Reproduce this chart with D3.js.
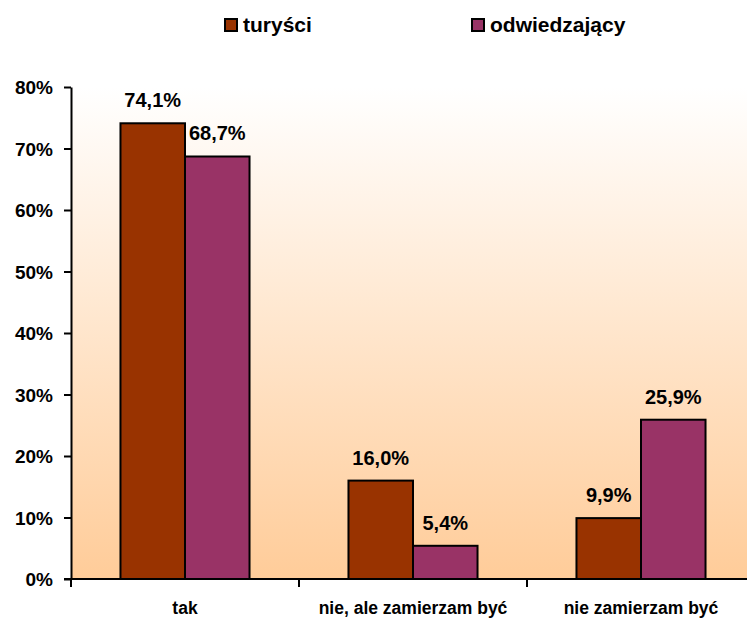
<!DOCTYPE html>
<html>
<head>
<meta charset="utf-8">
<script src="https://cdn.jsdelivr.net/npm/d3@7"></script>
<style>
  body { margin: 0; background: #fff; }
  text { font-family: "Liberation Sans", Arial, sans-serif; font-weight: bold; fill: #000; }
</style>
</head>
<body>
<svg id="vis" width="747" height="619"></svg>
<script>
// chart data
var categories = ["tak", "nie, ale zamierzam być", "nie zamierzam być"];
var seriesNames = ["turyści", "odwiedzający"];
var turysci = [74.1, 16.0, 9.9];
var odwiedzajacy = [68.7, 5.4, 25.9];
var yTicks = [0, 10, 20, 30, 40, 50, 60, 70, 80];

const colors = {
  "turyści": "#993300",
  "odwiedzający": "#993366"
};

var svg = d3.select("svg#vis");

var attr = {
  left: 71,
  right: 755,
  top: 87,
  bottom: 579
};

var rows = categories.map(function(c, i) {
  return { cat: c, values: [
    { name: seriesNames[0], v: turysci[i] },
    { name: seriesNames[1], v: odwiedzajacy[i] }
  ]};
});

// background gradient
var defs = svg.append("defs");
var grad = defs.append("linearGradient")
  .attr("id", "bg")
  .attr("x1", 0).attr("y1", 0).attr("x2", 0).attr("y2", 1);
grad.append("stop").attr("offset", "0%").attr("stop-color", "#ffffff");
grad.append("stop").attr("offset", "100%").attr("stop-color", "#ffcc99");

svg.append("rect")
  .attr("x", attr.left)
  .attr("y", attr.top)
  .attr("width", attr.right - attr.left)
  .attr("height", attr.bottom - attr.top)
  .style("fill", "url(#bg)");

// scales
var x0 = d3.scaleBand()
  .domain(categories)
  .range([attr.left, attr.right])
  .paddingInner(0.434)
  .paddingOuter(0.217);

var x1 = d3.scaleBand()
  .domain(seriesNames)
  .range([0, x0.bandwidth()]);

var y = d3.scaleLinear()
  .domain([0, 80])
  .range([attr.bottom, attr.top]);

// bars
var groups = svg.append("g").selectAll("g")
  .data(rows)
  .enter()
  .append("g")
  .attr("transform", d => translate(x0(d.cat), 0));

groups.selectAll("rect")
  .data(d => d.values)
  .enter()
  .append("rect")
  .attr("x", d => x1(d.name))
  .attr("y", d => y(d.v))
  .attr("width", x1.bandwidth())
  .attr("height", d => y(0) - y(d.v))
  .style("fill", d => colors[d.name])
  .style("stroke", "#000")
  .style("stroke-width", 2);

groups.selectAll("text.lbl")
  .data(d => d.values)
  .enter()
  .append("text")
  .attr("class", "lbl")
  .attr("x", d => x1(d.name) + x1.bandwidth() / 2)
  .attr("y", d => y(d.v) - 16)
  .attr("text-anchor", "middle")
  .style("font-size", "20px")
  .text(d => d.v.toFixed(1).replace(".", ",") + "%");

// y axis
var yAxis = svg.append("g")
  .attr("transform", translate(attr.left, 0))
  .call(d3.axisLeft(y).tickValues(yTicks).tickSize(7).tickSizeOuter(0).tickFormat(d => d + "%"));
yAxis.select(".domain").attr("stroke", "#000").attr("stroke-width", 2);
yAxis.selectAll(".tick line").attr("stroke", "#000").attr("stroke-width", 2);
yAxis.selectAll(".tick text")
  .attr("x", -18)
  .attr("dy", "0.35em")
  .style("font-size", "19px")
  .style("font-family", "Liberation Sans, Arial, sans-serif")
  .style("font-weight", "bold");

// x axis
var xAxisG = svg.append("g");
xAxisG.append("line")
  .attr("x1", attr.left - 7).attr("x2", attr.right)
  .attr("y1", attr.bottom).attr("y2", attr.bottom)
  .attr("stroke", "#000").attr("stroke-width", 2);
var bounds = categories.map(c => x0(c) - x0.step() * x0.paddingOuter()).concat([attr.right]);
xAxisG.selectAll("line.tk")
  .data(bounds)
  .enter()
  .append("line")
  .attr("class", "tk")
  .attr("x1", d => d).attr("x2", d => d)
  .attr("y1", attr.bottom).attr("y2", attr.bottom + 8)
  .attr("stroke", "#000").attr("stroke-width", 2);
xAxisG.selectAll("text")
  .data(categories)
  .enter()
  .append("text")
  .attr("x", d => x0(d) + x0.bandwidth() / 2)
  .attr("y", 614)
  .attr("text-anchor", "middle")
  .style("font-size", "17.5px")
  .text(d => d);

// legend
var legendX = [225, 472];
var legend = svg.append("g").selectAll("g")
  .data(seriesNames)
  .enter()
  .append("g")
  .attr("transform", (d, i) => translate(legendX[i], 19));
legend.append("rect")
  .attr("width", 12).attr("height", 12)
  .style("fill", d => colors[d])
  .style("stroke", "#000")
  .style("stroke-width", 2);
legend.append("text")
  .attr("x", 18)
  .attr("y", 13)
  .style("font-size", "21px")
  .text(d => d);

function translate(x, y) {
  return "translate(" + String(x) + "," + String(y) + ")";
}
</script>
</body>
</html>
